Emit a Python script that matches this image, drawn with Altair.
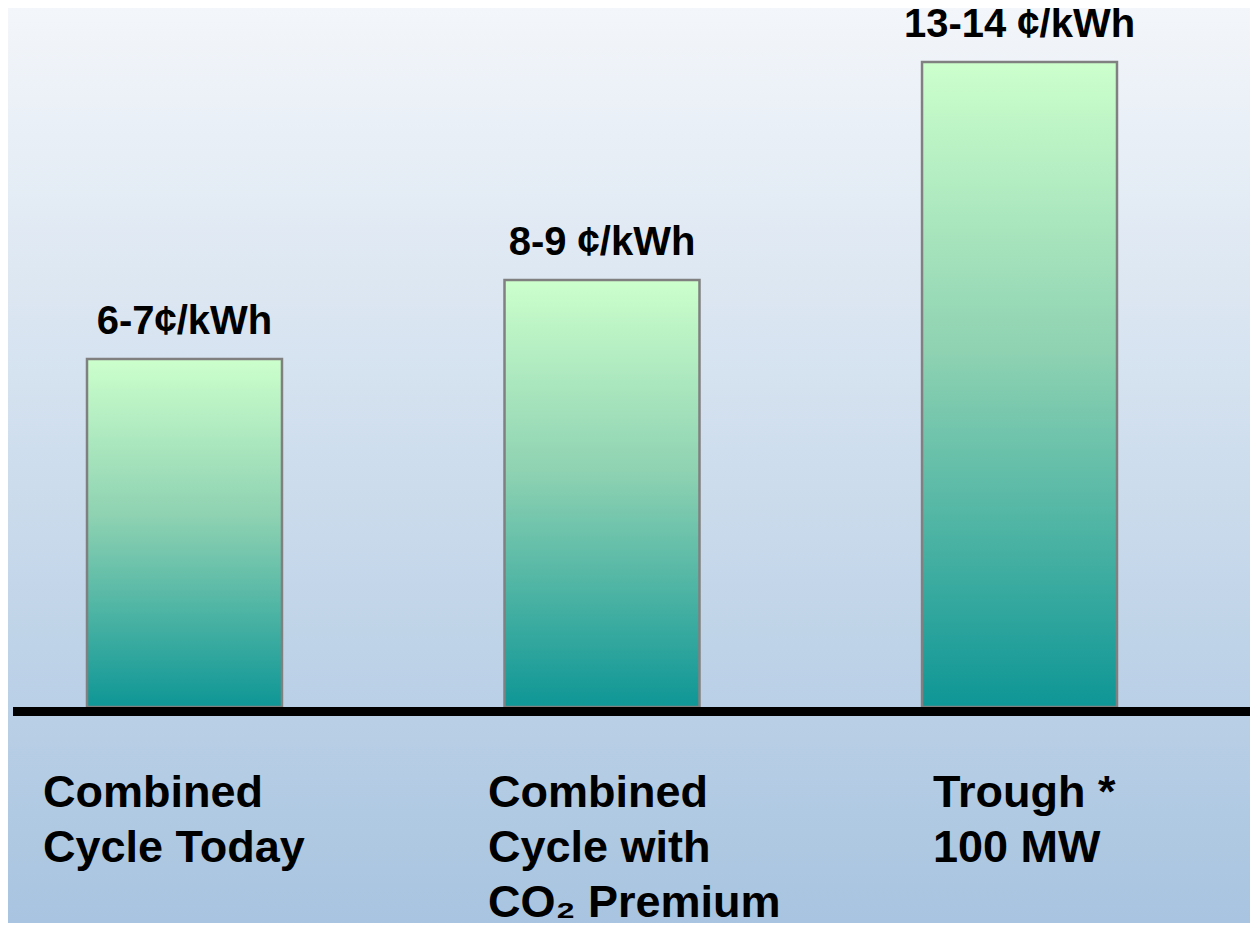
import altair as alt
import pandas as pd

categories = ["Combined Cycle Today", "Combined Cycle with CO2 Premium", "Trough * 100 MW"]
cost_values = [6.96, 8.54, 12.9]
value_labels = ["6-7¢/kWh", "8-9 ¢/kWh", "13-14 ¢/kWh"]
category_text = ["Combined\nCycle Today", "Combined\nCycle with\nCO₂ Premium", "Trough *\n100 MW"]

W, H = 1242, 915

df = pd.DataFrame({"cat": categories, "value": cost_values,
                   "label": value_labels, "text": category_text})

FONT = "Liberation Sans"

bg_grad = alt.Gradient(gradient="linear",
                       stops=[alt.GradientStop(color="#F3F6FA", offset=0),
                              alt.GradientStop(color="#A8C4E0", offset=1)],
                       x1=0, x2=0, y1=0, y2=1)
bar_grad = alt.Gradient(gradient="linear",
                        stops=[alt.GradientStop(color="#CCFFCC", offset=0),
                               alt.GradientStop(color="#8ED2B2", offset=0.45),
                               alt.GradientStop(color="#0E9696", offset=1)],
                        x1=0, x2=0, y1=0, y2=1)

xs = alt.Scale(domain=categories, range=[-4.5, 1192.5], paddingInner=0.533, paddingOuter=0.2)
ys = alt.Scale(domain=[-4.32, 13.98], zero=False, nice=False)

background = alt.Chart(alt.Data(values=[{"a": 1}])).mark_rect(fill=bg_grad).encode(
    x=alt.value(0), x2=alt.value(W), y=alt.value(0), y2=alt.value(H)
)

base = alt.Chart(df)

bars = base.mark_bar(fill=bar_grad, stroke="#808080", strokeWidth=2.5).encode(
    x=alt.X("cat:N", scale=xs, axis=None, sort=categories),
    y=alt.Y("value:Q", scale=ys, axis=None),
    y2=alt.datum(0),
)

value_text = base.mark_text(font=FONT, fontWeight="bold", fontSize=40, color="black",
                            baseline="alphabetic", align="center", dy=-25).encode(
    x=alt.X("cat:N", scale=xs, axis=None, sort=categories),
    y=alt.Y("value:Q", scale=ys, axis=None),
    text="label:N",
)

baseline = alt.Chart(alt.Data(values=[{"a": 1}])).mark_rule(
    color="black", strokeWidth=9, yOffset=4.5, strokeCap="butt").encode(
    y=alt.datum(0), x=alt.value(5), x2=alt.value(W)
)

cat_text = base.mark_text(font=FONT, fontWeight="bold", fontSize=45, color="black",
                          baseline="alphabetic", align="left", lineBreak="\n",
                          lineHeight=55).encode(
    x=alt.X("cat:N", scale=alt.Scale(type="point", domain=categories, range=[35, 925], padding=0),
            axis=None, sort=categories),
    y=alt.value(799),
    text="text:N",
)

main = alt.layer(bars, value_text, baseline)

chart = alt.layer(background, main, cat_text).resolve_scale(x="independent").properties(
    width=W, height=H, padding=0, autosize=alt.AutoSizeParams(type="none"),
    background="#F3F6FA"
).configure_view(stroke=None)

chart.save("out.html", embed_options={"renderer": "svg", "actions": False})
